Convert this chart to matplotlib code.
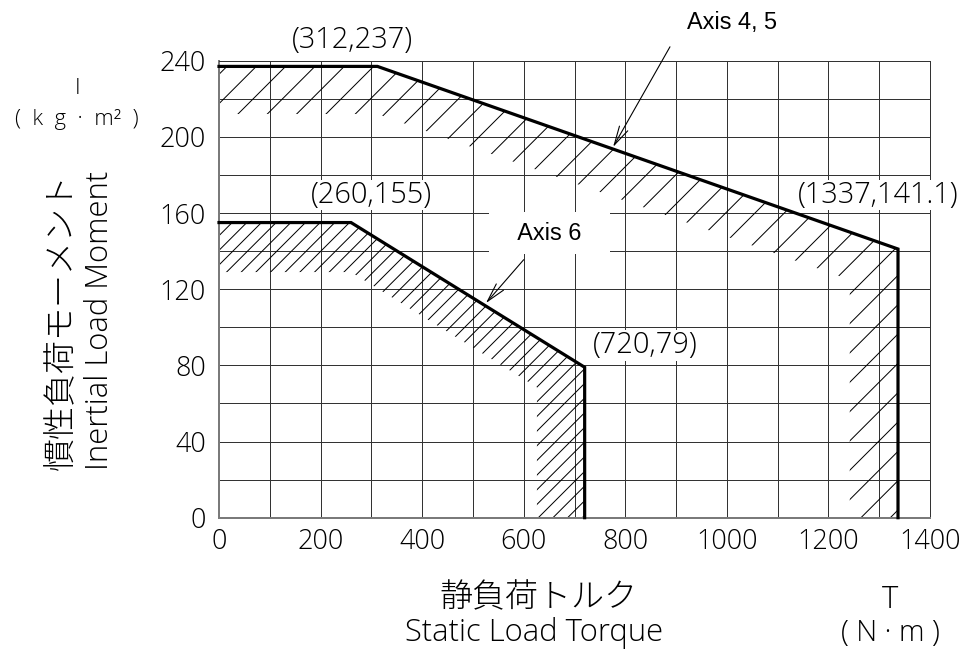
import matplotlib
matplotlib.use('Agg')
import matplotlib.pyplot as plt
from matplotlib.ticker import MultipleLocator

# allowable inertia limits (T [N·m], I [kg·m2])
axis45_t = [0, 312, 1337, 1337]
axis45_i = [237, 237, 141.1, 0]
axis6_t = [0, 260, 720, 720]
axis6_i = [155, 155, 79, 0]

x_ticks = [0, 200, 400, 600, 800, 1000, 1200, 1400]
y_ticks = [0, 40, 80, 120, 160, 200, 240]

DPI = 88   # hatch spacing follows dpi


def pt(px):
    return px * 72 / DPI


plt.rcParams['font.family'] = ['Open Sans', 'Noto Sans CJK JP', 'DejaVu Sans']
plt.rcParams['font.weight'] = 'light'
plt.rcParams['hatch.linewidth'] = pt(1.0)
JP = ['Noto Sans CJK JP', 'DejaVu Sans']


def band(xs, ys, dx, dy):
    # hatched strip just under the limit line
    slope = (ys[1] - ys[2]) / (xs[2] - xs[1])
    xi = xs[2] - dx
    yc = ys[1] - dy - (xi - xs[1]) * slope
    bx = list(xs) + [xi, xi, xs[1], xs[0]]
    by = list(ys) + [0, yc, ys[1] - dy, ys[0] - dy]
    return bx, by


fig = plt.figure(figsize=(980 / DPI, 653 / DPI), dpi=DPI)
ax = fig.add_axes([219 / 980, 1 - 517.7 / 653, 711 / 980, 457 / 653])

ax.set_xlim(0, 1400)
ax.set_ylim(0, 240)
ax.set_xticks(x_ticks)
ax.set_yticks(y_ticks)
ax.xaxis.set_minor_locator(MultipleLocator(100))
ax.yaxis.set_minor_locator(MultipleLocator(20))
ax.tick_params(which='both', length=0, labelsize=pt(27))
ax.tick_params(axis='x', pad=pt(10))
ax.tick_params(axis='y', pad=pt(13))
ax.grid(which='both', color='#333333', lw=pt(1.0))
ax.set_axisbelow(True)
for s in ['left', 'bottom']:
    ax.spines[s].set_color('#7a7a7a')
    ax.spines[s].set_linewidth(pt(2.0))
for s in ['top', 'right']:
    ax.spines[s].set_color('#333333')
    ax.spines[s].set_linewidth(pt(1.0))

# hatched strips
bx, by = band(axis45_t, axis45_i, 95, 25)
ax.fill(bx, by, facecolor='none', edgecolor='black', hatch='/', lw=0)
bx, by = band(axis6_t, axis6_i, 94, 26)
ax.fill(bx, by, facecolor='none', edgecolor='black', hatch='//', lw=0)

# limit lines
ax.plot(axis45_t, axis45_i, color='black', lw=pt(3.2), solid_joinstyle='miter', clip_on=False, zorder=5)
ax.plot(axis6_t, axis6_i, color='black', lw=pt(3.2), solid_joinstyle='miter', clip_on=False, zorder=5)

# corner labels
wb = dict(facecolor='white', edgecolor='none', pad=0.5)
cs = pt(29)
ax.text(262, 251, '(%d,%d)' % (axis45_t[1], axis45_i[1]), fontsize=cs, ha='center', va='center', clip_on=False)
ax.text(301, 169.5, '(%d,%d)' % (axis6_t[1], axis6_i[1]), fontsize=cs, ha='center', va='center', bbox=wb, zorder=4)
ax.text(1298, 169.5, '(%d,%.1f)' % (axis45_t[2], axis45_i[2]), fontsize=cs, ha='center', va='center', bbox=wb, zorder=4, clip_on=False)
ax.text(839, 90.6, '(%d,%d)' % (axis6_t[2], axis6_i[2]), fontsize=cs, ha='center', va='center', bbox=wb, zorder=4)

# callouts
arrow = dict(arrowstyle='->,head_length=1.0,head_width=0.25', lw=pt(1.1), color='black',
             shrinkA=0, shrinkB=0, mutation_scale=pt(19))
ax.annotate('', xy=(776, 194.7), xytext=(888, 247.3), arrowprops=arrow, annotation_clip=False, zorder=6)
ax.text(1010, 260, 'Axis 4, 5', family='Liberation Sans', weight='normal', fontsize=pt(23.5),
        ha='center', va='center', clip_on=False)
ax.text(651, 149.4, '   Axis 6   ', family='Liberation Sans', weight='normal', fontsize=pt(23.5),
        ha='center', va='center', bbox=dict(facecolor='white', edgecolor='none', boxstyle='square,pad=0.4'), zorder=4)
ax.annotate('', xy=(525.6, 112.7), xytext=(600, 135.5), arrowprops=arrow, zorder=6)

# axis titles
fig.text(62 / 980, 1 - 321 / 653, '慣性負荷モーメント', family=JP, weight='light', fontsize=pt(33),
         rotation=90, ha='center', va='center')
fig.text(100 / 980, 1 - 320 / 653, 'Inertial Load Moment', fontsize=pt(31), rotation=90, ha='center', va='center')
fig.text(78 / 980, 1 - 88 / 653, 'I', fontsize=pt(22), ha='center', va='center')
fig.text(77 / 980, 1 - 119 / 653, '(  k  g  ·  m²  )', fontsize=pt(22), ha='center', va='center')

fig.text(538 / 980, 1 - 598 / 653, '静負荷トルク', family=JP, weight='light', fontsize=pt(33), ha='center', va='center')
fig.text(534 / 980, 1 - 633 / 653, 'Static Load Torque', fontsize=pt(31), ha='center', va='center')
fig.text(890 / 980, 1 - 600 / 653, 'T', fontsize=pt(31), ha='center', va='center')
fig.text(890 / 980, 1 - 633 / 653, '( N · m )', fontsize=pt(29), ha='center', va='center')

fig.savefig('out.png', dpi=DPI)
